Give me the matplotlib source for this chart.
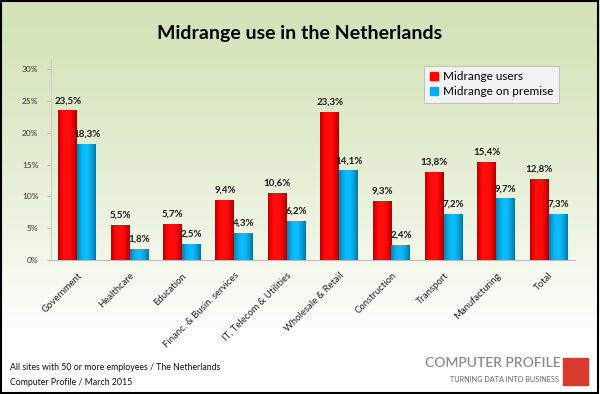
import numpy as np
import matplotlib
matplotlib.use("Agg")
import matplotlib.pyplot as plt
from matplotlib.patches import Rectangle

categories = ["Government", "Healthcare", "Education", "Financ. & Busin. services",
              "IT, Telecom & Utilities", "Wholesale & Retail", "Construction",
              "Transport", "Manufacturing", "Total"]
midrange_users = [23.5, 5.5, 5.7, 9.4, 10.6, 23.3, 9.3, 13.8, 15.4, 12.8]
midrange_on_premise = [18.3, 1.8, 2.5, 4.3, 6.2, 14.1, 2.4, 7.2, 9.7, 7.3]
yticks = [0, 5, 10, 15, 20, 25, 30]

plt.rcParams["font.family"] = ["Lato", "DejaVu Sans"]

fig = plt.figure(figsize=(6.0, 3.94), dpi=100)

# background gradient (light green -> white)
bg = fig.add_axes([0, 0, 1, 1], zorder=-10)
grad = np.linspace(0, 1, 256).reshape(-1, 1)
top = np.array([0.83, 0.89, 0.72])
bottom = np.array([1.0, 1.0, 1.0])
t = np.clip(grad / 0.85, 0, 1) ** 1.3
img = top * (1 - t[..., None]) + bottom * t[..., None]
bg.imshow(img, aspect="auto", extent=[0, 1, 0, 1], origin="upper")
bg.set_axis_off()
bg.add_patch(Rectangle((0.002, 0.003), 0.995, 0.994, transform=bg.transAxes,
                       fill=False, edgecolor="black", linewidth=1.5))

ax = fig.add_axes([0.085, 0.340, 0.873, 0.509])
ax.patch.set_alpha(0)

x = np.arange(len(categories))
w = 0.36


def cyl_bars(xs, vals, base_color):
    bars = ax.bar(xs, vals, width=w, color=base_color, zorder=3)
    shade = np.linspace(0, 1, 64)
    prof = 0.55 + 0.45 * np.sin(np.pi * (0.15 + 0.75 * shade))
    c = np.array(matplotlib.colors.to_rgb(base_color))
    row = np.clip(c[None, :] * prof[:, None] + 0.25 * (prof[:, None] - 0.8).clip(0), 0, 1)
    row = row[None, :, :]
    for b in bars:
        im = ax.imshow(row, aspect="auto", zorder=4,
                       extent=[b.get_x(), b.get_x() + b.get_width(), 0, b.get_height()])
        im.set_clip_path(b)
    return bars


cyl_bars(x - w / 2, midrange_users, "#ff0000")
cyl_bars(x + w / 2, midrange_on_premise, "#00b0f0")

for xi, v in zip(x - w / 2, midrange_users):
    ax.text(xi, v + 0.8, f"{v:.1f}%".replace(".", ","), ha="center", va="bottom",
            fontsize=7, fontweight="bold", color="#1a1a1a", zorder=5)
for xi, v in zip(x + w / 2, midrange_on_premise):
    ax.text(xi, v + 0.8, f"{v:.1f}%".replace(".", ","), ha="center", va="bottom",
            fontsize=7, fontweight="bold", color="#1a1a1a", zorder=5)

ax.set_xlim(-0.5, len(categories) - 0.5)
ax.set_ylim(0, 31.5)
ax.set_yticks(yticks)
ax.set_yticklabels([f"{v}%" for v in yticks], fontsize=6, color="#333333")
ax.set_xticks(x)
ax.set_xticklabels(categories, rotation=45, ha="right", rotation_mode="anchor",
                   fontsize=6.8, color="#222222")
ax.tick_params(axis="x", length=0, pad=8)
ax.tick_params(axis="y", length=3, color="#bbbbbb", pad=6)
for s in ["top", "right"]:
    ax.spines[s].set_visible(False)
ax.spines["left"].set_color("#cccccc")
ax.spines["bottom"].set_color("#bbbbbb")

h1 = Rectangle((0, 0), 1, 1, color="#ff0000")
h2 = Rectangle((0, 0), 1, 1, color="#00b0f0")
leg = ax.legend([h1, h2], ["Midrange users", "Midrange on premise"],
                loc="upper right", bbox_to_anchor=(0.97, 0.97), fontsize=8.5,
                handlelength=0.7, handleheight=0.7, fancybox=False,
                framealpha=1, edgecolor="#bbbbbb", borderpad=0.5,
                handletextpad=0.4, labelspacing=0.3, borderaxespad=0)
leg.get_frame().set_facecolor("#f2f2f2")
leg.get_frame().set_linewidth(0.6)

fig.text(0.5, 0.915, "Midrange use in the Netherlands", ha="center", va="center",
         fontsize=14, fontweight="bold", color="black")

fig.text(0.017, 0.068, "All sites with 50 or more employees / The Netherlands",
         fontsize=6.3, color="#111111", va="center")
fig.text(0.017, 0.028, "Computer Profile / March 2015",
         fontsize=6.3, color="#111111", va="center")

fig.text(0.934, 0.078, "COMPUTER PROFILE", ha="right", va="center",
         fontsize=10, fontweight="semibold", color="#8c8c8c")
fig.text(0.932, 0.038, "TURNING DATA INTO BUSINESS", ha="right", va="center",
         fontsize=5.2, color="#666666")
fig.add_artist(Rectangle((0.938, 0.023), 0.042, 0.068, transform=fig.transFigure,
                         color="#d83a2e"))

fig.savefig("out.png", dpi=100)
